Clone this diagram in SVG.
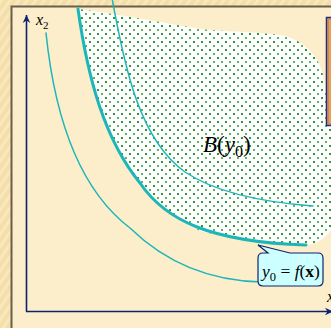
<svg xmlns="http://www.w3.org/2000/svg" width="331" height="328" viewBox="0 0 331 328">
<defs>
  <pattern id="stripes" width="7" height="7" patternUnits="userSpaceOnUse" patternTransform="rotate(35)">
    <rect width="7" height="7" fill="#f4dfa8"/>
    <rect width="3" height="7" fill="#f8e8bf"/>
  </pattern>
  <pattern id="dots" width="8" height="8" patternUnits="userSpaceOnUse">
    <rect width="8" height="8" fill="#ffffff"/>
    <rect x="1" y="1" width="2" height="2" fill="#2f9a35"/>
    <rect x="5" y="5" width="2" height="2" fill="#5cb55c"/>
  </pattern>
  <marker id="arr" markerWidth="10" markerHeight="10" viewBox="-8 -5 10 10" refX="0" refY="0" orient="auto" markerUnits="userSpaceOnUse">
    <path d="M0,0 L-8,-3.8 L-5.5,0 L-8,3.8 Z" fill="#0d2370"/>
  </marker>
  <style>
    .curve{fill:none;stroke:#1cb6b8;stroke-linecap:round}
    .thin{stroke-width:1.5}
    .thick{stroke-width:3}
    .axis{stroke:#0d2370;stroke-width:1.6;fill:none}
    .lbl{font-family:"Liberation Serif","Times New Roman",serif;fill:#000}
  </style>
</defs>
<rect width="331" height="328" fill="url(#stripes)"/>
<rect x="12" y="7" width="319" height="321" fill="#fcedcb"/>
<path d="M11.5,328 L11.5,6.5 L331,6.5" fill="none" stroke="#6b5e4a" stroke-width="2"/>

<g id="region-B">
  <path d="M78,9 C110,13 160,22 200,29 C230,32 265,32 285,36 C305,42 318,55 323,75 C326,90 327,110 335,125 L335,222 C330,236 318,244 306,245 C250,240 210,235 198,230 C180,222 160,205 140,183 C105,140 88,80 78,9 Z" fill="url(#dots)"/>
</g>

<g id="orange-box">
  <rect x="326.5" y="17.5" width="12" height="108" fill="#eba250" stroke="#1e2a88" stroke-width="1.5"/>
  <rect x="328.5" y="19.5" width="10" height="104" fill="none" stroke="#c98a5a" stroke-width="1"/>
</g>

<g id="connectors">
  <line class="axis" x1="26.5" y1="311.5" x2="26.5" y2="15" marker-end="url(#arr)"/>
  <line class="axis" x1="26" y1="311.5" x2="333" y2="311.5" marker-end="url(#arr)"/>
  <path class="curve thick" d="M78,9 C88,80 105,140 140,183 C165,220 210,242 306,245"/>
  <path class="curve thin" d="M112,-2 C125,70 140,140 185,172 C215,192 260,202 313,206"/>
  <path class="curve thin" d="M46,33 C55,120 80,190 130,228 C165,262 210,281 262,282"/>
</g>

<g id="label-x2">
  <text class="lbl" x="36" y="25" font-size="16" font-style="italic">x<tspan font-size="11" font-style="normal" dy="4">2</tspan></text>
</g>
<g id="label-x1">
  <text class="lbl" x="327" y="302" font-size="16" font-style="italic">x<tspan font-size="11" font-style="normal" dy="4">1</tspan></text>
</g>
<g id="label-B">
  <text class="lbl" x="203" y="152" font-size="23" font-style="italic">B<tspan font-style="normal">(</tspan>y<tspan font-size="16" font-style="normal" dy="5">0</tspan><tspan font-style="normal" dy="-5">)</tspan></text>
</g>

<g id="callout">
  <path d="M263,253 L268,253 L258,245 L290,253 L318,253 Q323,253 323,258 L323,281 Q323,286 318,286 L263,286 Q258,286 258,281 L258,258 Q258,253 263,253 Z" fill="#ccffff" stroke="#0d2370" stroke-width="1.2"/>
  <text class="lbl" x="262" y="277" font-size="17.5"><tspan font-style="italic">y</tspan><tspan font-size="12.5" dy="4">0</tspan><tspan dy="-4"> = </tspan><tspan font-style="italic">f</tspan>(<tspan font-weight="bold">x</tspan>)</text>
</g>
</svg>
